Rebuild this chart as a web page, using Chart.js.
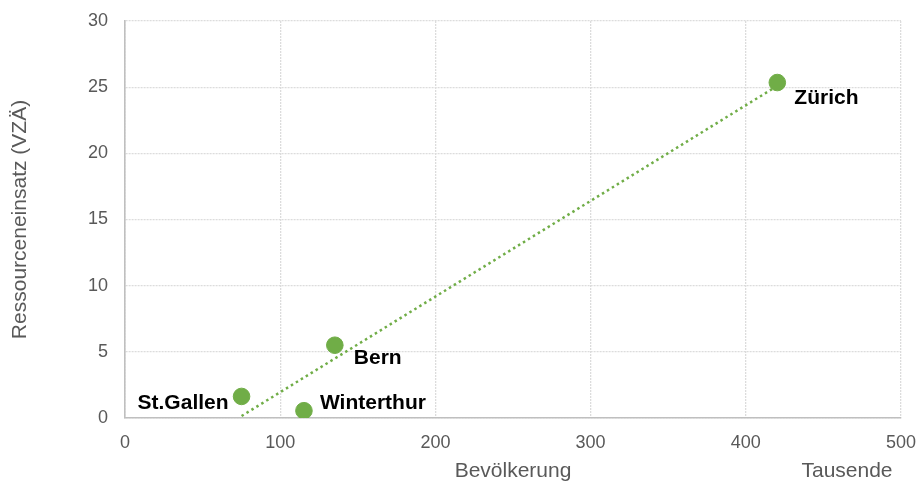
<!DOCTYPE html>
<html>
<head>
<meta charset="utf-8">
<script src="https://cdn.jsdelivr.net/npm/chart.js@4/dist/chart.umd.min.js"></script>
<style>
  html, body { margin: 0; padding: 0; background: #ffffff; }
  #wrap { width: 920px; height: 488px; position: relative; }
</style>
</head>
<body>
<div id="wrap"><canvas id="c" width="920" height="488"></canvas></div>
<script>
// Cities: population (thousands) vs. resource input (FTE)
const cities = ['Zürich', 'Bern', 'St.Gallen', 'Winterthur'];
const population = [420.3, 135.2, 75.1, 115.3];
const resources = [25.35, 5.5, 1.63, 0.55];

// Linear trend line end points
const trendX = [75.1, 420.3];
const trendY = [0.15, 25.1];

const xTicks = [0, 100, 200, 300, 400, 500];
const yTicks = [0, 5, 10, 15, 20, 25, 30];

const GREEN = '#70ad47';
const GREY = '#595959';
const FONT = '"Liberation Sans", Arial, sans-serif';

// label placement per city: [dx, dy, align]
const labelPlace = {
  'Zürich':     [17, 16, 'left'],
  'Bern':       [19, 13, 'left'],
  'St.Gallen':  [-13, 7, 'right'],
  'Winterthur': [16, -8, 'left']
};

const labelPlugin = {
  id: 'cityLabels',
  afterDatasetsDraw(chart) {
    const ctx = chart.ctx;
    const meta = chart.getDatasetMeta(1);
    ctx.save();
    ctx.font = 'bold 21px ' + FONT;
    ctx.fillStyle = '#000000';
    ctx.textBaseline = 'middle';
    meta.data.forEach((pt, i) => {
      const name = cities[i];
      const p = labelPlace[name];
      ctx.textAlign = p[2];
      ctx.fillText(name, pt.x + p[0], pt.y + p[1]);
    });
    // unit note under the x axis, right side
    ctx.font = '21px ' + FONT;
    ctx.fillStyle = GREY;
    ctx.textAlign = 'center';
    ctx.fillText('Tausende', 847, 471);
    ctx.restore();
  }
};

new Chart(document.getElementById('c'), {
  type: 'scatter',
  data: {
    datasets: [
      {
        label: 'Trend',
        type: 'line',
        data: trendX.map((x, i) => ({ x: x, y: trendY[i] })),
        borderColor: GREEN,
        borderWidth: 2.5,
        borderDash: [2.5, 3.3],
        pointRadius: 0,
        fill: false,
        order: 2
      },
      {
        label: 'Städte',
        data: population.map((x, i) => ({ x: x, y: resources[i] })),
        backgroundColor: GREEN,
        borderColor: GREEN,
        pointRadius: 8.3,
        pointHoverRadius: 8.3,
        order: 1
      }
    ]
  },
  options: {
    responsive: false,
    animation: false,
    events: [],
    layout: { padding: { top: 21, right: 19, left: 0, bottom: 0 } },
    plugins: {
      legend: { display: false },
      tooltip: { enabled: false }
    },
    scales: {
      x: {
        type: 'linear',
        min: 0, max: 500,
        afterBuildTicks(axis) { axis.ticks = xTicks.map(v => ({ value: v })); },
        afterFit(axis) {
          axis.height = 70;
          axis.paddingLeft = 0;
          axis.paddingRight = 0;
        },
        grid: {
          color: '#dcdcdc',
          lineWidth: 1.3,
          drawTicks: false
        },
        border: { color: '#bfbfbf', width: 1.6, dash: [2, 1] },
        ticks: {
          padding: 14,
          color: GREY,
          font: { family: FONT, size: 18 }
        },
        title: {
          display: true,
          text: 'Bevölkerung',
          color: GREY,
          font: { family: FONT, size: 21 },
          padding: { top: 6, bottom: 4 }
        }
      },
      y: {
        type: 'linear',
        min: 0, max: 30,
        afterBuildTicks(axis) { axis.ticks = yTicks.map(v => ({ value: v })); },
        afterFit(axis) {
          axis.width = 125;
          axis.paddingTop = 0;
          axis.paddingBottom = 0;
        },
        grid: {
          color: '#dcdcdc',
          lineWidth: 1.3,
          drawTicks: false
        },
        border: { color: '#bfbfbf', width: 1.6, dash: [2, 1] },
        ticks: {
          padding: 17,
          color: GREY,
          font: { family: FONT, size: 18 }
        },
        title: {
          display: true,
          text: 'Ressourceneinsatz (VZÄ)',
          color: GREY,
          font: { family: FONT, size: 21 },
          padding: { top: 8, bottom: 0 }
        }
      }
    }
  },
  plugins: [labelPlugin]
});
</script>
</body>
</html>
